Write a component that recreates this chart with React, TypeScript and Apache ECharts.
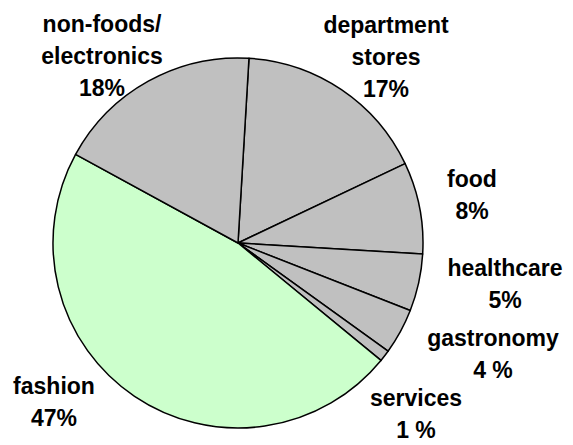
import React, { useEffect, useRef } from "react";
import * as echarts from "echarts";

const categories = [
  "department\nstores",
  "food",
  "healthcare",
  "gastronomy",
  "services",
  "fashion",
  "non-foods/\nelectronics",
];
const values = [17, 8, 5, 4, 1, 47, 18];
const percentLabels = ["17%", "8%", "5%", "4 %", "1 %", "47%", "18%"];
const sliceColors = ["#C0C0C0", "#C0C0C0", "#C0C0C0", "#C0C0C0", "#C0C0C0", "#CCFFCC", "#C0C0C0"];

// label block centres (layout only)
const labelPositions: [number, number][] = [
  [386, 57],
  [472, 195],
  [505, 284],
  [493, 354],
  [416, 414],
  [54, 402],
  [102, 56],
];

export default function App() {
  const ref = useRef<HTMLDivElement>(null);
  useEffect(() => {
    if (!ref.current) return;
    const chart = echarts.init(ref.current, undefined, { renderer: "svg" });
    chart.setOption({
      animation: false,
      backgroundColor: "#ffffff",
      series: [
        {
          type: "pie",
          center: [238, 243],
          radius: 185,
          startAngle: 86.6,
          clockwise: true,
          avoidLabelOverlap: false,
          emphasis: { disabled: true },
          itemStyle: { borderColor: "#000000", borderWidth: 1.5 },
          label: {
            show: true,
            position: "outside",
            fontFamily: "'Liberation Sans', Arial, sans-serif",
            fontWeight: "bold",
            fontSize: 23,
            lineHeight: 32,
            color: "#000000",
            align: "center",
            formatter: (p: any) => `${p.name}\n${percentLabels[p.dataIndex]}`,
          },
          labelLine: { show: false },
          labelLayout: (params: any) => {
            const pos = labelPositions[params.dataIndex];
            return { x: pos[0], y: pos[1], align: "center", verticalAlign: "middle" };
          },
          data: categories.map((name, i) => ({
            name,
            value: values[i],
            itemStyle: { color: sliceColors[i] },
          })),
        },
      ],
    });
    return () => chart.dispose();
  }, []);
  return (
    <div
      ref={ref}
      style={{ position: "absolute", left: 0, top: 0, width: 573, height: 445 }}
    />
  );
}
